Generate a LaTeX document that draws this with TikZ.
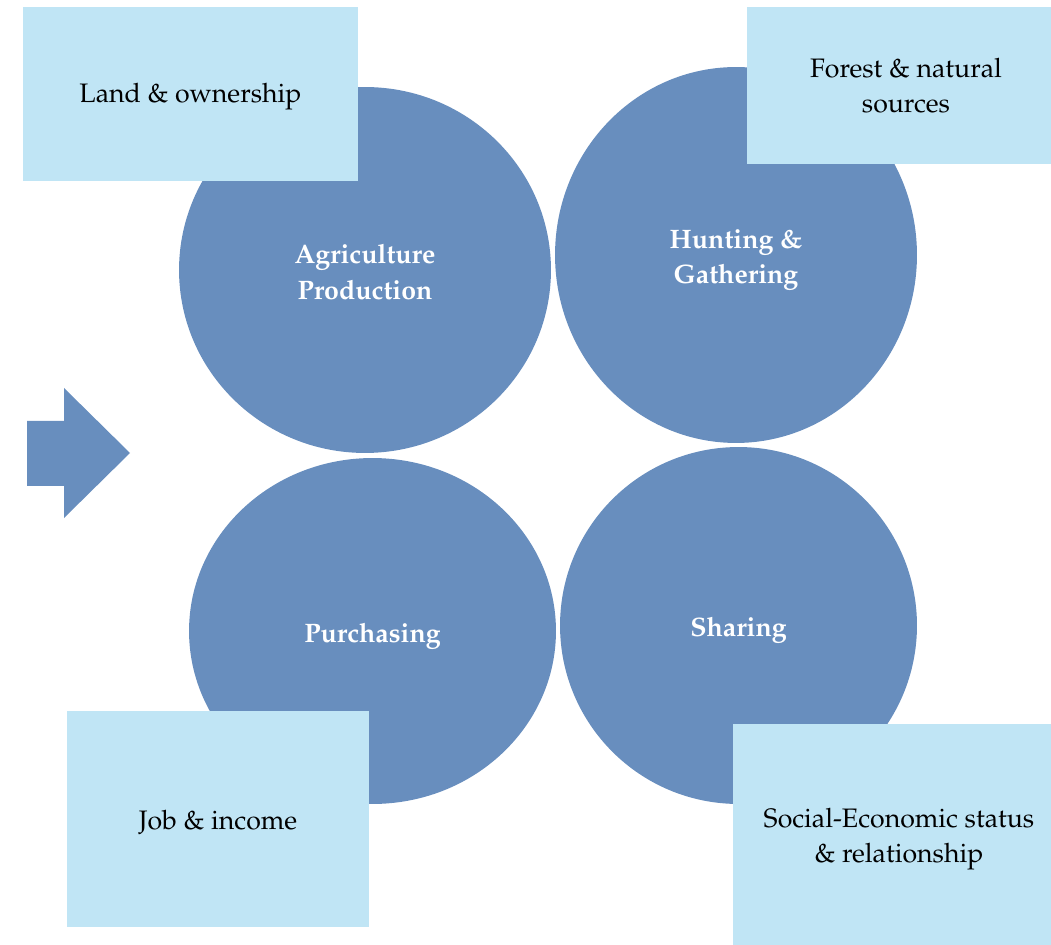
\documentclass[tikz,border=0pt]{standalone}
\usepackage[T1]{fontenc}
\usepackage{mathpazo}
\usetikzlibrary{shapes.geometric, positioning}

\definecolor{discblue}{HTML}{688EBE}
\definecolor{boxblue}{HTML}{C0E5F5}

\tikzset{
  disc/.style={ellipse, fill=discblue, inner sep=0pt},
  disctext/.style={text=white, align=center,
    font=\fontsize{15.2}{20}\selectfont\bfseries},
  factor/.style={rectangle, fill=boxblue, inner sep=0pt},
  factortext/.style={text=black, align=center,
    font=\fontsize{15.2}{20}\selectfont}
}

\begin{document}
\begin{tikzpicture}[x=0.02cm,y=-0.02cm]
   \useasboundingbox (0,0) rectangle (1051,945);

   % the four ways of getting food
   \node[disc, minimum width=7.44cm, minimum height=7.32cm,
         label={[disctext, yshift=-0.04cm]center:{Agriculture\\Production}}] (agri) at (365,270) {};
   \node[disc, minimum width=7.24cm, minimum height=7.52cm,
         label={[disctext, yshift=-0.1cm]center:{Hunting \&\\Gathering}}] (hunt) at (736,255) {};
   \node[disc, minimum width=7.34cm, minimum height=6.92cm,
         label={[disctext, yshift=-0.1cm]center:{Purchasing}}] (purch) at (372.5,631) {};
   \node[disc, minimum width=7.14cm, minimum height=7.14cm,
         label={[disctext, yshift=-0.1cm]center:{Sharing}}] (share) at (738.5,625.5) {};

   % what each one depends on
   \node[factor, minimum width=6.7cm, minimum height=3.48cm,
         label={[factortext, yshift=-0.06cm]center:{Land \& ownership}}] (land) at (190.5,94) {};
   \node[factor, minimum width=6.08cm, minimum height=3.14cm,
         label={[factortext, xshift=0.14cm, yshift=-0.01cm]center:{Forest \& natural\\sources}}] (forest) at (899,85.5) {};
   \node[factor, minimum width=6.04cm, minimum height=4.32cm,
         label={[factortext, yshift=-0.06cm]center:{Job \& income}}] (job) at (218,819) {};
   \node[factor, minimum width=6.36cm, minimum height=4.42cm,
         label={[factortext, xshift=0.14cm, yshift=-0.1cm]center:{Social-Economic status\\\& relationship}}] (social) at (892,834.5) {};

   % block arrow
   \fill[discblue] (27,421) -- (64,421) -- (64,388) -- (130,453)
                   -- (64,518) -- (64,486) -- (27,486) -- cycle;

\end{tikzpicture}
\end{document}
